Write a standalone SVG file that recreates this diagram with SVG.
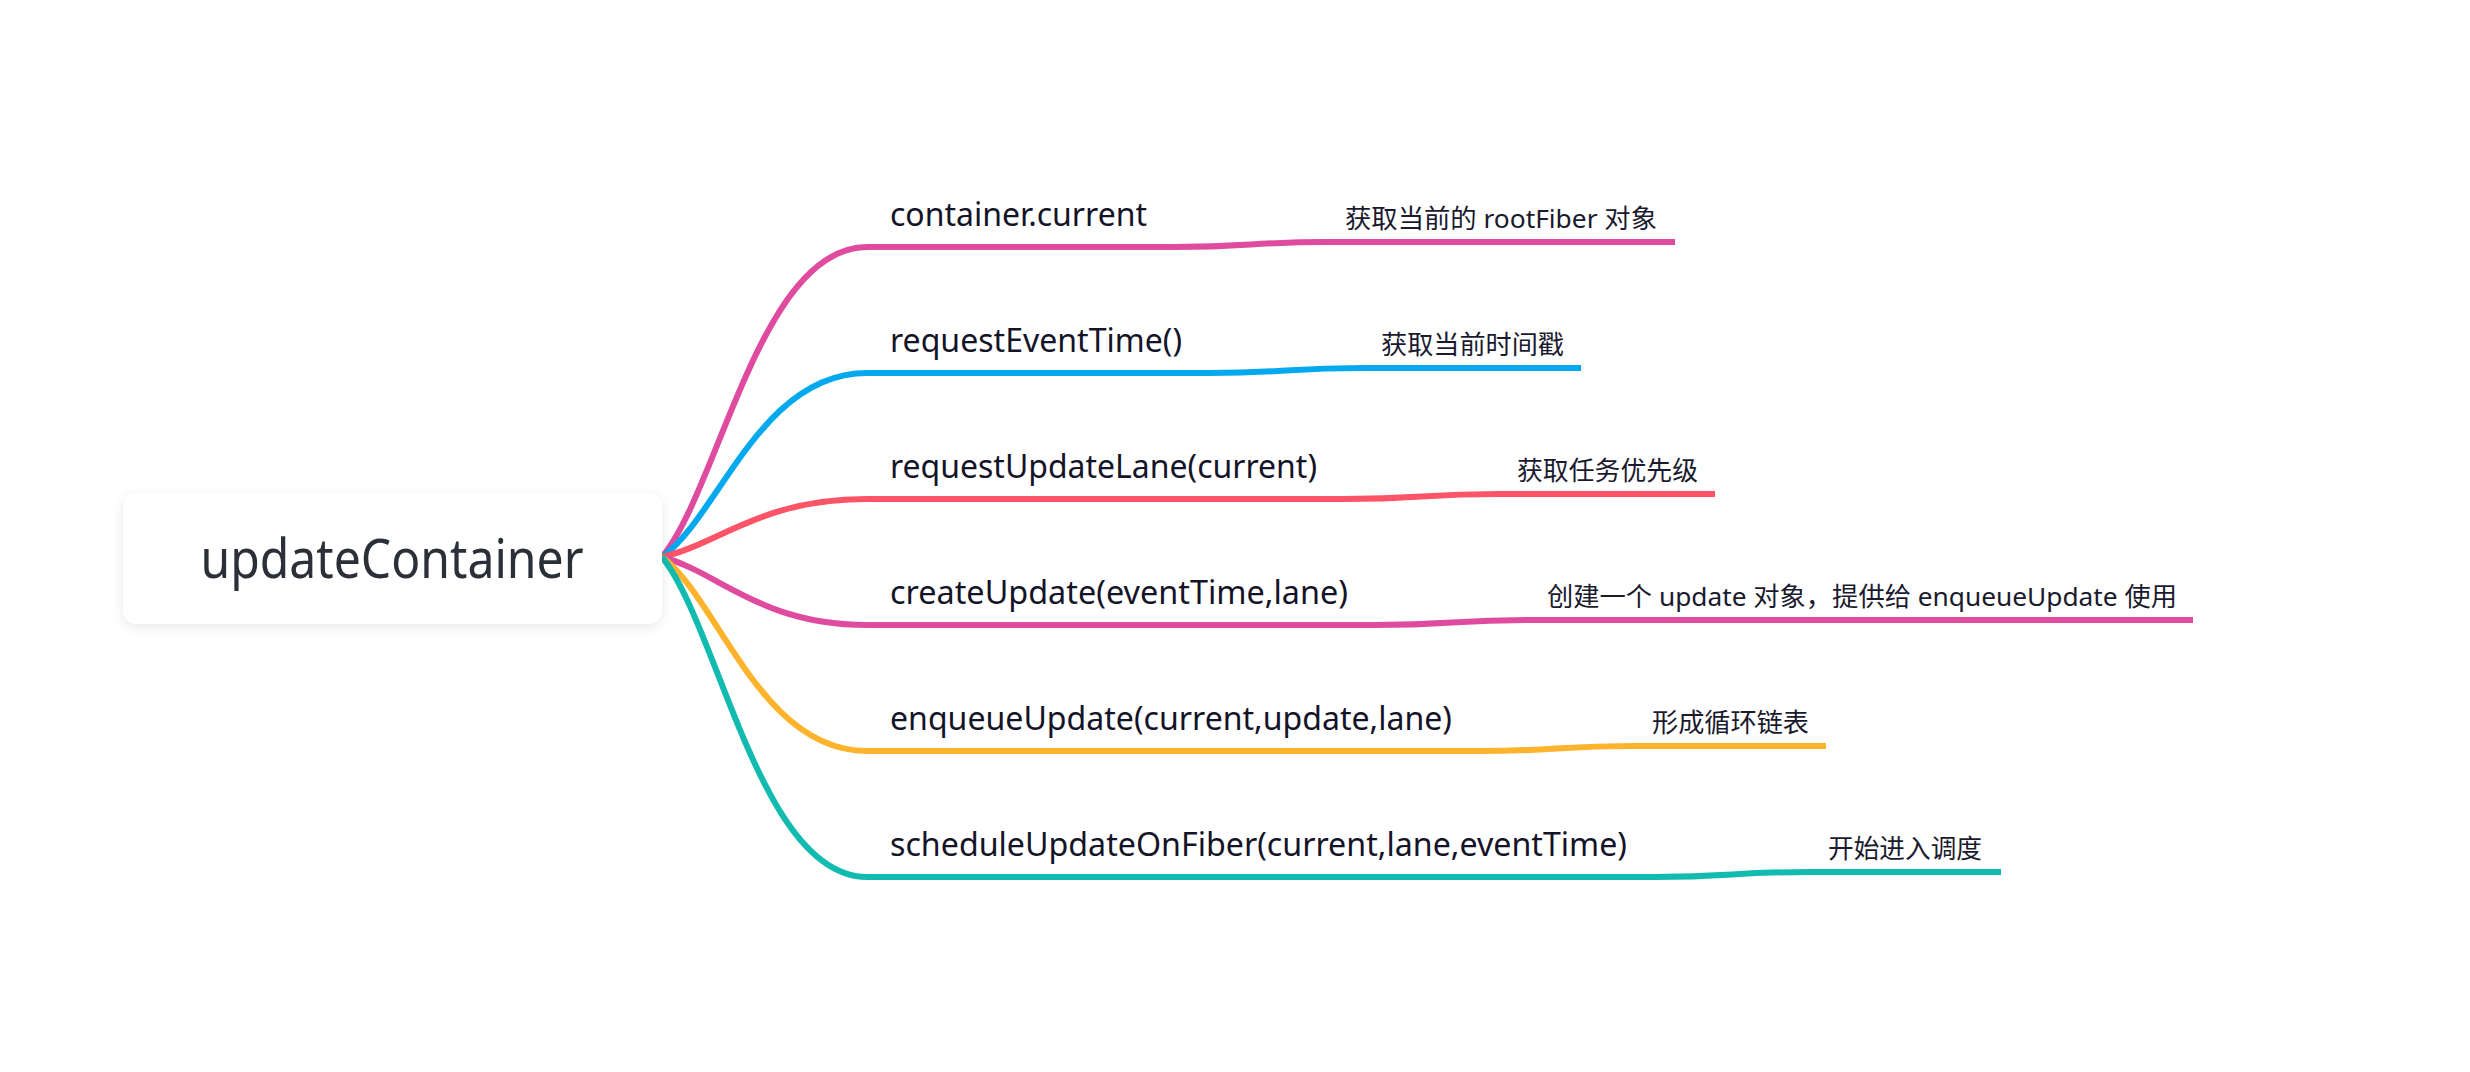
<svg xmlns="http://www.w3.org/2000/svg" width="2470" height="1072" viewBox="0 0 2470 1072">
  <style>
    .root-text { font-family: "Noto Sans", "Open Sans", sans-serif; font-size: 54px; fill: #2b2f38; }
    .topic { font-family: "Noto Sans", "Open Sans", sans-serif; font-size: 32px; fill: #141428; }
    .note { font-family: "Noto Sans", "Noto Sans CJK SC", sans-serif; font-size: 26px; fill: #1a1a2e; }
    .conn { fill: none; stroke-width: 6; stroke-linecap: butt; stroke-linejoin: round; }
    .c-pink { stroke: #de4b9f; }
    .c-blue { stroke: #02a9ef; }
    .c-red { stroke: #fe5467; }
    .c-orange { stroke: #fdb32c; }
    .c-teal { stroke: #12bbb0; }
  </style>
  <defs>
    <filter id="shadow" x="-10%" y="-30%" width="120%" height="160%">
      <feDropShadow dx="0" dy="3" stdDeviation="6" flood-color="#000000" flood-opacity="0.09"/>
    </filter>
  </defs>
  <rect x="0" y="0" width="2470" height="1072" fill="#ffffff"/>

  <g id="connectors">
    <path class="conn c-pink" d="M662,557 C719,488.8 760,247 867,247 L1174,247 C1250.5,247 1250.5,242 1327,242 L1675,242"/>
    <path class="conn c-blue" d="M662,557 C719,516.5 760,373 867,373 L1209,373 C1286,373 1286,368 1363,368 L1581,368"/>
    <path class="conn c-red" d="M662,557 C719,544.2 760,499 867,499 L1344,499 C1421.5,499 1421.5,494 1499,494 L1715,494"/>
    <path class="conn c-pink" d="M662,557 C719,572 760,625 867,625 L1375,625 C1452,625 1452,620 1529,620 L2193,620"/>
    <path class="conn c-orange" d="M662,557 C719,599.7 760,751 867,751 L1479,751 C1556.5,751 1556.5,746 1634,746 L1826,746"/>
    <path class="conn c-teal" d="M662,557 C719,627.4 760,877 867,877 L1654,877 C1732,877 1732,872 1810,872 L2001,872"/>
  </g>

  <g id="root">
    <rect x="123" y="493" width="539" height="131" rx="14" ry="14" fill="#ffffff" filter="url(#shadow)"/>
    <text class="root-text" x="392" y="578" text-anchor="middle" textLength="383" lengthAdjust="spacingAndGlyphs">updateContainer</text>
  </g>

  <g id="topic-1">
    <text class="topic" x="890" y="226" textLength="257" lengthAdjust="spacingAndGlyphs">container.current</text>
  </g>
  <g id="note-1">
    <text class="note" x="1345" y="228" textLength="312" lengthAdjust="spacingAndGlyphs">获取当前的 rootFiber 对象</text>
  </g>

  <g id="topic-2">
    <text class="topic" x="890" y="352" textLength="292" lengthAdjust="spacingAndGlyphs">requestEventTime()</text>
  </g>
  <g id="note-2">
    <text class="note" x="1381" y="354" textLength="183" lengthAdjust="spacingAndGlyphs">获取当前时间戳</text>
  </g>

  <g id="topic-3">
    <text class="topic" x="890" y="478" textLength="427" lengthAdjust="spacingAndGlyphs">requestUpdateLane(current)</text>
  </g>
  <g id="note-3">
    <text class="note" x="1517" y="480" textLength="181" lengthAdjust="spacingAndGlyphs">获取任务优先级</text>
  </g>

  <g id="topic-4">
    <text class="topic" x="890" y="604" textLength="458" lengthAdjust="spacingAndGlyphs">createUpdate(eventTime,lane)</text>
  </g>
  <g id="note-4">
    <text class="note" x="1547" y="606" textLength="630" lengthAdjust="spacingAndGlyphs">创建一个 update 对象，提供给 enqueueUpdate 使用</text>
  </g>

  <g id="topic-5">
    <text class="topic" x="890" y="730" textLength="562" lengthAdjust="spacingAndGlyphs">enqueueUpdate(current,update,lane)</text>
  </g>
  <g id="note-5">
    <text class="note" x="1652" y="732" textLength="157" lengthAdjust="spacingAndGlyphs">形成循环链表</text>
  </g>

  <g id="topic-6">
    <text class="topic" x="890" y="856" textLength="737" lengthAdjust="spacingAndGlyphs">scheduleUpdateOnFiber(current,lane,eventTime)</text>
  </g>
  <g id="note-6">
    <text class="note" x="1828" y="858" textLength="154" lengthAdjust="spacingAndGlyphs">开始进入调度</text>
  </g>
</svg>
